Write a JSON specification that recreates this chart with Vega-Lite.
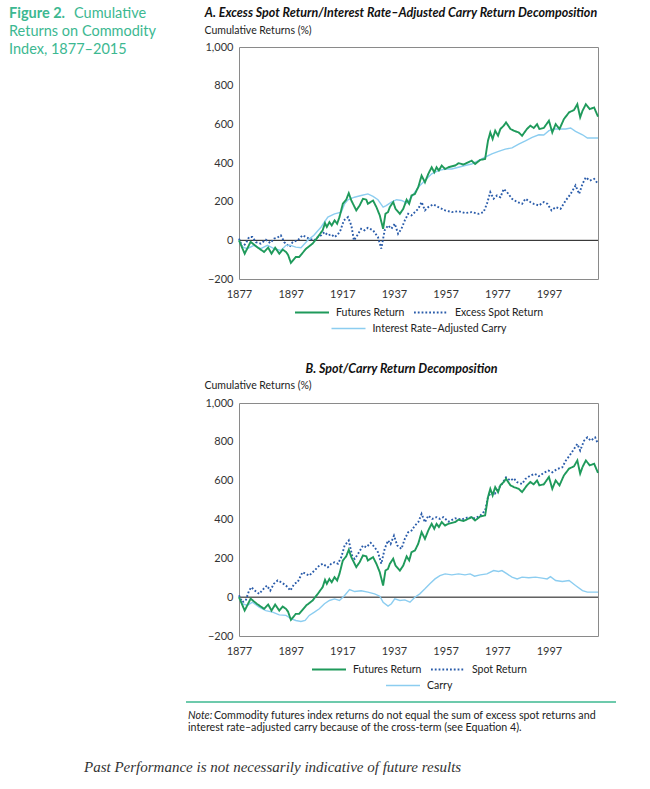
{
  "$schema": "https://vega.github.io/schema/vega-lite/v6.json",
  "padding": {"left": 8, "top": 5, "right": 5, "bottom": 5},
  "background": "white",
  "config": {
    "font": "Lato",
    "view": {"stroke": "#8a8a8a", "strokeWidth": 1},
    "axis": {"labelFont": "Lato", "labelFontSize": 11, "labelColor": "#333333", "grid": false, "ticks": false, "domain": false, "titleFont": "Lato", "titleFontWeight": "normal", "titleFontSize": 10.5, "titleColor": "#222222", "labelFlush": false, "labelOverlap": false},
    "axisY": {"labelOverlap": false, "labelSeparation": 0},
    "legend": {"orient": "bottom", "direction": "horizontal", "labelFont": "Lato", "labelFontSize": 10.5, "labelColor": "#222222", "symbolType": "stroke", "symbolSize": 1156, "symbolStrokeWidth": 1.8, "clipHeight": 13, "columnPadding": 8, "labelOffset": 6, "offset": 7, "padding": 0, "layout": {"bottom": {"anchor": "middle", "direction": "vertical", "center": true, "margin": 3}}},
    "title": {"font": "Lato"}
  },
  "datasets": {
    "futures": [
      {"year":1877,"value":0},{"year":1879.2,"value":-69},{"year":1881.5,"value":-8},{"year":1884,"value":-35},{"year":1886.7,"value":-60},{"year":1888.3,"value":-38},{"year":1889.6,"value":-69},{"year":1891,"value":-38},{"year":1892.6,"value":-69},{"year":1893.9,"value":-48},{"year":1895.2,"value":-60},{"year":1896,"value":-75},{"year":1897.1,"value":-117},{"year":1899,"value":-86},{"year":1900.3,"value":-86},{"year":1903,"value":-43},{"year":1905.5,"value":-17},{"year":1907.5,"value":17},{"year":1909.4,"value":52},{"year":1910.3,"value":89},{"year":1911,"value":69},{"year":1912,"value":94},{"year":1912.9,"value":77},{"year":1914,"value":103},{"year":1915,"value":86},{"year":1915.9,"value":120},{"year":1917.2,"value":189},{"year":1918.5,"value":210},{"year":1919.5,"value":244},{"year":1920.5,"value":206},{"year":1922.4,"value":155},{"year":1923.7,"value":180},{"year":1925,"value":215},{"year":1926.3,"value":210},{"year":1926.9,"value":189},{"year":1928.9,"value":206},{"year":1930.2,"value":172},{"year":1931.5,"value":129},{"year":1932.8,"value":60},{"year":1933.7,"value":137},{"year":1934.7,"value":146},{"year":1935.4,"value":172},{"year":1936.7,"value":198},{"year":1937.6,"value":163},{"year":1939.3,"value":137},{"year":1940.6,"value":163},{"year":1941.9,"value":210},{"year":1942.9,"value":189},{"year":1943.8,"value":232},{"year":1945.1,"value":240},{"year":1946.4,"value":275},{"year":1947.7,"value":335},{"year":1949,"value":300},{"year":1950.3,"value":344},{"year":1951.6,"value":378},{"year":1952.6,"value":352},{"year":1953.5,"value":378},{"year":1954.4,"value":361},{"year":1955.5,"value":387},{"year":1956.8,"value":369},{"year":1958.1,"value":378},{"year":1960.7,"value":387},{"year":1962,"value":399},{"year":1963.9,"value":392},{"year":1965.8,"value":404},{"year":1967.1,"value":412},{"year":1968.4,"value":395},{"year":1970.4,"value":416},{"year":1972.3,"value":421},{"year":1973.4,"value":515},{"year":1974.3,"value":558},{"year":1975.2,"value":524},{"year":1976.2,"value":567},{"year":1977.3,"value":541},{"year":1978.2,"value":576},{"year":1979.5,"value":593},{"year":1980.4,"value":610},{"year":1982.1,"value":576},{"year":1983.4,"value":567},{"year":1985.3,"value":558},{"year":1986.6,"value":541},{"year":1988.5,"value":576},{"year":1989.8,"value":593},{"year":1991.1,"value":581},{"year":1992.4,"value":601},{"year":1993.3,"value":576},{"year":1995,"value":581},{"year":1997,"value":619},{"year":1998.3,"value":558},{"year":1999.6,"value":601},{"year":2001.1,"value":576},{"year":2002.8,"value":627},{"year":2004.8,"value":662},{"year":2006.7,"value":674},{"year":2008,"value":704},{"year":2009.1,"value":636},{"year":2010,"value":670},{"year":2011.3,"value":704},{"year":2012.8,"value":679},{"year":2014.5,"value":687},{"year":2016,"value":640}
    ],
    "excessSpot": [
      {"year":1877,"value":9},{"year":1878.3,"value":-34},{"year":1879.6,"value":-17},{"year":1880.9,"value":17},{"year":1882.2,"value":17},{"year":1883.5,"value":-9},{"year":1885.4,"value":-17},{"year":1887.4,"value":3},{"year":1889.1,"value":-14},{"year":1890.6,"value":9},{"year":1891.9,"value":14},{"year":1893.2,"value":26},{"year":1894.5,"value":-9},{"year":1896.5,"value":-34},{"year":1897.8,"value":-9},{"year":1899.7,"value":0},{"year":1901.6,"value":26},{"year":1902.9,"value":17},{"year":1904.2,"value":9},{"year":1906.2,"value":0},{"year":1907.5,"value":17},{"year":1908.8,"value":26},{"year":1910.1,"value":43},{"year":1911.4,"value":26},{"year":1912.7,"value":31},{"year":1914,"value":17},{"year":1915.3,"value":31},{"year":1916.3,"value":52},{"year":1917.6,"value":103},{"year":1919.2,"value":120},{"year":1920.5,"value":77},{"year":1921.5,"value":0},{"year":1922.8,"value":26},{"year":1924.3,"value":60},{"year":1925.6,"value":52},{"year":1926.9,"value":65},{"year":1928.9,"value":52},{"year":1930.8,"value":17},{"year":1932.1,"value":-43},{"year":1933.4,"value":52},{"year":1934.7,"value":77},{"year":1936,"value":60},{"year":1937.3,"value":86},{"year":1938.6,"value":34},{"year":1939.9,"value":60},{"year":1941.2,"value":103},{"year":1942.5,"value":137},{"year":1943.8,"value":129},{"year":1945.1,"value":146},{"year":1946.4,"value":163},{"year":1947.7,"value":198},{"year":1949,"value":155},{"year":1950.3,"value":172},{"year":1952.2,"value":186},{"year":1954.2,"value":172},{"year":1956.8,"value":155},{"year":1959.4,"value":146},{"year":1962,"value":151},{"year":1964.5,"value":141},{"year":1967.1,"value":146},{"year":1969.7,"value":137},{"year":1971.7,"value":146},{"year":1973,"value":189},{"year":1974.3,"value":249},{"year":1975.6,"value":215},{"year":1976.9,"value":232},{"year":1978.2,"value":223},{"year":1979.5,"value":266},{"year":1980.8,"value":249},{"year":1982.7,"value":215},{"year":1984.7,"value":198},{"year":1986.6,"value":189},{"year":1987.9,"value":215},{"year":1989.8,"value":198},{"year":1991.1,"value":189},{"year":1993.1,"value":180},{"year":1995,"value":198},{"year":1996.4,"value":189},{"year":1998,"value":155},{"year":1999.6,"value":172},{"year":2001.5,"value":163},{"year":2003.5,"value":206},{"year":2005.4,"value":240},{"year":2007.3,"value":284},{"year":2008.7,"value":240},{"year":2010,"value":292},{"year":2011.3,"value":326},{"year":2012.8,"value":309},{"year":2014.5,"value":318},{"year":2016,"value":292}
    ],
    "carryA": [
      {"year":1877,"value":0},{"year":1878.3,"value":-34},{"year":1880.2,"value":-43},{"year":1882.8,"value":-26},{"year":1885.4,"value":-43},{"year":1888,"value":-26},{"year":1890.6,"value":-43},{"year":1893.2,"value":-52},{"year":1895.2,"value":-26},{"year":1897,"value":-26},{"year":1899,"value":-35},{"year":1901,"value":-38},{"year":1903.6,"value":0},{"year":1906,"value":26},{"year":1908.8,"value":69},{"year":1911.4,"value":120},{"year":1914,"value":137},{"year":1916.6,"value":146},{"year":1917.9,"value":189},{"year":1919.2,"value":210},{"year":1921.7,"value":223},{"year":1924.3,"value":232},{"year":1926.9,"value":240},{"year":1928.9,"value":227},{"year":1930.8,"value":210},{"year":1932.8,"value":172},{"year":1934,"value":180},{"year":1936,"value":198},{"year":1938,"value":210},{"year":1940,"value":206},{"year":1941.9,"value":192},{"year":1943.8,"value":223},{"year":1946.4,"value":275},{"year":1949,"value":309},{"year":1951.6,"value":344},{"year":1954.2,"value":361},{"year":1956.8,"value":369},{"year":1959.4,"value":369},{"year":1962,"value":378},{"year":1964.5,"value":387},{"year":1967.1,"value":395},{"year":1969.7,"value":412},{"year":1972.3,"value":430},{"year":1974.9,"value":447},{"year":1977.5,"value":460},{"year":1980.1,"value":472},{"year":1982.7,"value":478},{"year":1985.3,"value":498},{"year":1987.9,"value":515},{"year":1990.5,"value":533},{"year":1993.1,"value":546},{"year":1995,"value":545},{"year":1997,"value":567},{"year":1998.9,"value":576},{"year":2000.9,"value":576},{"year":2003.5,"value":576},{"year":2005.4,"value":581},{"year":2007.3,"value":564},{"year":2010,"value":546},{"year":2011.9,"value":529},{"year":2016,"value":529}
    ],
    "spot": [
      {"year":1877,"value":9},{"year":1878.3,"value":-26},{"year":1879.6,"value":-17},{"year":1880.9,"value":34},{"year":1881.8,"value":51},{"year":1883.1,"value":34},{"year":1884.8,"value":17},{"year":1886.5,"value":43},{"year":1887.8,"value":60},{"year":1889.1,"value":34},{"year":1890.5,"value":69},{"year":1892,"value":86},{"year":1893.3,"value":77},{"year":1895.2,"value":60},{"year":1896.9,"value":34},{"year":1898.4,"value":69},{"year":1899.7,"value":77},{"year":1901.6,"value":129},{"year":1902.9,"value":120},{"year":1904.2,"value":111},{"year":1906.2,"value":137},{"year":1908.1,"value":163},{"year":1909.4,"value":172},{"year":1911.4,"value":154},{"year":1912.7,"value":172},{"year":1914,"value":180},{"year":1915.3,"value":172},{"year":1916.6,"value":206},{"year":1917.9,"value":266},{"year":1919.5,"value":292},{"year":1920.8,"value":214},{"year":1921.8,"value":197},{"year":1923.1,"value":223},{"year":1925,"value":266},{"year":1926.3,"value":257},{"year":1928,"value":280},{"year":1929.5,"value":257},{"year":1930.8,"value":232},{"year":1932.1,"value":172},{"year":1933.4,"value":249},{"year":1934.7,"value":292},{"year":1935.7,"value":274},{"year":1937,"value":317},{"year":1938.3,"value":266},{"year":1939.9,"value":249},{"year":1941.2,"value":300},{"year":1942.5,"value":334},{"year":1943.8,"value":343},{"year":1945.1,"value":369},{"year":1946.4,"value":386},{"year":1947.7,"value":429},{"year":1949,"value":386},{"year":1950.3,"value":420},{"year":1951.8,"value":403},{"year":1953.5,"value":412},{"year":1954.8,"value":403},{"year":1956.1,"value":412},{"year":1958.1,"value":389},{"year":1960.7,"value":406},{"year":1963.2,"value":400},{"year":1965.8,"value":412},{"year":1968.4,"value":406},{"year":1970.4,"value":420},{"year":1972.3,"value":446},{"year":1973.4,"value":515},{"year":1974.7,"value":540},{"year":1976,"value":532},{"year":1977.3,"value":557},{"year":1978.8,"value":583},{"year":1980.4,"value":617},{"year":1982.1,"value":600},{"year":1983.4,"value":612},{"year":1984.7,"value":592},{"year":1986.6,"value":583},{"year":1987.9,"value":609},{"year":1989.8,"value":626},{"year":1991.5,"value":635},{"year":1993.1,"value":623},{"year":1995,"value":640},{"year":1996.8,"value":652},{"year":1998.3,"value":643},{"year":2000.2,"value":660},{"year":2002.2,"value":669},{"year":2003.5,"value":703},{"year":2005,"value":729},{"year":2006.7,"value":763},{"year":2008,"value":789},{"year":2009.1,"value":755},{"year":2010.6,"value":806},{"year":2011.9,"value":823},{"year":2013.2,"value":806},{"year":2014.9,"value":823},{"year":2016,"value":789}
    ],
    "carryB": [
      {"year":1877,"value":0},{"year":1878.3,"value":-34},{"year":1880.2,"value":-43},{"year":1882.2,"value":-26},{"year":1884.8,"value":-51},{"year":1887.4,"value":-69},{"year":1890,"value":-77},{"year":1892.6,"value":-91},{"year":1895.2,"value":-94},{"year":1897.1,"value":-111},{"year":1899,"value":-120},{"year":1901,"value":-125},{"year":1902.6,"value":-120},{"year":1904.2,"value":-94},{"year":1906.2,"value":-77},{"year":1908.1,"value":-60},{"year":1910.1,"value":-34},{"year":1912,"value":-17},{"year":1914,"value":-9},{"year":1915.9,"value":-17},{"year":1917.9,"value":9},{"year":1919.8,"value":39},{"year":1921.8,"value":29},{"year":1924.3,"value":33},{"year":1926.9,"value":26},{"year":1929.5,"value":17},{"year":1931.5,"value":5},{"year":1932.8,"value":-26},{"year":1934.7,"value":-46},{"year":1936,"value":-34},{"year":1937.3,"value":-9},{"year":1939.3,"value":-17},{"year":1941.2,"value":-14},{"year":1943.2,"value":-26},{"year":1945.1,"value":0},{"year":1947,"value":17},{"year":1949,"value":43},{"year":1950.9,"value":69},{"year":1952.9,"value":94},{"year":1954.8,"value":111},{"year":1956.8,"value":120},{"year":1959.4,"value":115},{"year":1962,"value":120},{"year":1964.5,"value":115},{"year":1966.5,"value":120},{"year":1968.2,"value":108},{"year":1970.4,"value":115},{"year":1973,"value":120},{"year":1975.6,"value":137},{"year":1977.5,"value":132},{"year":1978.8,"value":137},{"year":1980.8,"value":120},{"year":1982.7,"value":103},{"year":1984.7,"value":94},{"year":1986.6,"value":103},{"year":1989.2,"value":100},{"year":1991.8,"value":103},{"year":1994.4,"value":98},{"year":1996.3,"value":94},{"year":1997.6,"value":106},{"year":1999.6,"value":86},{"year":2002.2,"value":81},{"year":2004.8,"value":86},{"year":2007.3,"value":60},{"year":2010,"value":34},{"year":2011.9,"value":26},{"year":2016,"value":26}
    ]
  },
  "spacing": 26,
  "resolve": {"scale": {"color": "independent", "strokeDash": "independent", "strokeWidth": "independent"}},
  "vconcat": [
    {
      "width": 359,
      "height": 232,
      "layer": [
        {
          "data": {"values": [{}]},
          "mark": {"type": "rule", "color": "#111111", "strokeWidth": 1},
          "encoding": {"y": {"datum": 0, "type": "quantitative", "scale": {"domain": [-200, 1000], "nice": false}, "axis": {"tickCount": 6, "format": ",d", "title": "Cumulative Returns (%)", "titleAngle": 0, "titleAlign": "left", "titleBaseline": "middle", "titleX": -35, "titleY": -17, "labelPadding": 6, "labelOverlap": false}}}
        },
        {
          "data": {"name": "excessSpot"},
          "mark": {"type": "line", "strokeWidth": 1.9},
          "encoding": {
            "x": {"field": "year", "type": "quantitative", "scale": {"domain": [1877, 2016], "nice": false, "zero": false}, "axis": {"values": [1877, 1897, 1917, 1937, 1957, 1977, 1997], "format": "d", "title": null, "labelPadding": 9, "labelOverlap": false}},
            "y": {"field": "value", "type": "quantitative", "scale": {"domain": [-200, 1000], "nice": false}, "axis": {"tickCount": 6, "format": ",d", "title": "Cumulative Returns (%)", "titleAngle": 0, "titleAlign": "left", "titleBaseline": "middle", "titleX": -35, "titleY": -17, "labelPadding": 6, "labelOverlap": false}},
            "color": {"datum": "Excess Spot Return", "type": "nominal", "scale": {"domain": ["Futures Return", "Excess Spot Return"], "range": ["#1f9a5b", "#2a5caa"]}, "legend": {"title": null, "symbolType": "stroke", "clipHeight": 13}},
            "strokeDash": {"datum": "Excess Spot Return", "type": "nominal", "scale": {"domain": ["Futures Return", "Excess Spot Return"], "range": [[1, 0], [1.8, 2]]}, "legend": {"title": null, "symbolType": "stroke", "clipHeight": 13}}
          }
        },
        {
          "data": {"name": "carryA"},
          "mark": {"type": "line", "color": "#8ccdf0", "stroke": "#8ccdf0"},
          "encoding": {
            "x": {"field": "year", "type": "quantitative", "scale": {"domain": [1877, 2016], "nice": false, "zero": false}},
            "y": {"field": "value", "type": "quantitative", "scale": {"domain": [-200, 1000], "nice": false}},
            "strokeWidth": {"datum": "Interest Rate–Adjusted Carry", "type": "nominal", "scale": {"domain": ["Interest Rate–Adjusted Carry"], "range": [1.4, 1.4]}, "legend": {"title": null, "symbolStrokeColor": "#8ccdf0", "symbolType": "stroke", "clipHeight": 13}}
          }
        },
        {
          "data": {"name": "futures"},
          "mark": {"type": "line", "strokeWidth": 1.9},
          "encoding": {
            "x": {"field": "year", "type": "quantitative", "scale": {"domain": [1877, 2016], "nice": false, "zero": false}},
            "y": {"field": "value", "type": "quantitative", "scale": {"domain": [-200, 1000], "nice": false}},
            "color": {"datum": "Futures Return", "type": "nominal", "scale": {"domain": ["Futures Return", "Excess Spot Return"], "range": ["#1f9a5b", "#2a5caa"]}, "legend": {"title": null, "symbolType": "stroke", "clipHeight": 13}},
            "strokeDash": {"datum": "Futures Return", "type": "nominal", "scale": {"domain": ["Futures Return", "Excess Spot Return"], "range": [[1, 0], [1.8, 2]]}, "legend": {"title": null, "symbolType": "stroke", "clipHeight": 13}}
          }
        },
        {
          "data": {"values": [{}]},
          "mark": {"type": "text", "text": "Figure 2.", "font": "Lato", "fontSize": 14.5, "fontWeight": "bold", "color": "#3cb891", "align": "left", "baseline": "middle"},
          "encoding": {"x": {"value": -230}, "y": {"value": -33}}
        },
        {
          "data": {"values": [{}]},
          "mark": {"type": "text", "text": "Cumulative", "font": "Lato", "fontSize": 14.5, "color": "#3cb891", "align": "left", "baseline": "middle"},
          "encoding": {"x": {"value": -165}, "y": {"value": -33}}
        },
        {
          "data": {"values": [{}]},
          "mark": {"type": "text", "text": "Returns on Commodity", "font": "Lato", "fontSize": 14.5, "color": "#3cb891", "align": "left", "baseline": "middle"},
          "encoding": {"x": {"value": -230}, "y": {"value": -15}}
        },
        {
          "data": {"values": [{}]},
          "mark": {"type": "text", "text": "Index, 1877–2015", "font": "Lato", "fontSize": 14.5, "color": "#3cb891", "align": "left", "baseline": "middle"},
          "encoding": {"x": {"value": -230}, "y": {"value": 3}}
        },
        {
          "data": {"values": [{}]},
          "mark": {"type": "text", "text": "A. Excess Spot Return/Interest Rate–Adjusted Carry Return Decomposition", "font": "Lato", "fontSize": 12.5, "fontWeight": "bold", "fontStyle": "italic", "color": "#111111", "align": "center", "baseline": "middle"},
          "encoding": {"x": {"value": 162}, "y": {"value": -34}}
        }
      ]
    },
    {
      "width": 359,
      "height": 233,
      "title": {"text": "B. Spot/Carry Return Decomposition", "font": "Lato", "fontSize": 12.5, "fontWeight": "bold", "fontStyle": "italic", "color": "#111111", "anchor": "middle", "frame": "group", "dx": -17, "offset": 5},
      "layer": [
        {
          "data": {"values": [{}]},
          "mark": {"type": "rule", "color": "#111111", "strokeWidth": 1},
          "encoding": {"y": {"datum": 0, "type": "quantitative", "scale": {"domain": [-200, 1000], "nice": false}, "axis": {"tickCount": 6, "format": ",d", "title": "Cumulative Returns (%)", "titleAngle": 0, "titleAlign": "left", "titleBaseline": "middle", "titleX": -35, "titleY": -18, "labelPadding": 6, "labelOverlap": false}}}
        },
        {
          "data": {"name": "spot"},
          "mark": {"type": "line", "strokeWidth": 1.9},
          "encoding": {
            "x": {"field": "year", "type": "quantitative", "scale": {"domain": [1877, 2016], "nice": false, "zero": false}, "axis": {"values": [1877, 1897, 1917, 1937, 1957, 1977, 1997], "format": "d", "title": null, "labelPadding": 9, "labelOverlap": false}},
            "y": {"field": "value", "type": "quantitative", "scale": {"domain": [-200, 1000], "nice": false}, "axis": {"tickCount": 6, "format": ",d", "title": "Cumulative Returns (%)", "titleAngle": 0, "titleAlign": "left", "titleBaseline": "middle", "titleX": -35, "titleY": -18, "labelPadding": 6, "labelOverlap": false}},
            "color": {"datum": "Spot Return", "type": "nominal", "scale": {"domain": ["Futures Return", "Spot Return"], "range": ["#1f9a5b", "#2a5caa"]}, "legend": {"title": null, "symbolType": "stroke", "clipHeight": 13}},
            "strokeDash": {"datum": "Spot Return", "type": "nominal", "scale": {"domain": ["Futures Return", "Spot Return"], "range": [[1, 0], [1.8, 2]]}, "legend": {"title": null, "symbolType": "stroke", "clipHeight": 13}}
          }
        },
        {
          "data": {"name": "carryB"},
          "mark": {"type": "line", "color": "#8ccdf0", "stroke": "#8ccdf0"},
          "encoding": {
            "x": {"field": "year", "type": "quantitative", "scale": {"domain": [1877, 2016], "nice": false, "zero": false}},
            "y": {"field": "value", "type": "quantitative", "scale": {"domain": [-200, 1000], "nice": false}},
            "strokeWidth": {"datum": "Carry", "type": "nominal", "scale": {"domain": ["Carry"], "range": [1.4, 1.4]}, "legend": {"title": null, "symbolStrokeColor": "#8ccdf0", "symbolType": "stroke", "clipHeight": 13}}
          }
        },
        {
          "data": {"name": "futures"},
          "mark": {"type": "line", "strokeWidth": 1.9},
          "encoding": {
            "x": {"field": "year", "type": "quantitative", "scale": {"domain": [1877, 2016], "nice": false, "zero": false}},
            "y": {"field": "value", "type": "quantitative", "scale": {"domain": [-200, 1000], "nice": false}},
            "color": {"datum": "Futures Return", "type": "nominal", "scale": {"domain": ["Futures Return", "Spot Return"], "range": ["#1f9a5b", "#2a5caa"]}, "legend": {"title": null, "symbolType": "stroke", "clipHeight": 13}},
            "strokeDash": {"datum": "Futures Return", "type": "nominal", "scale": {"domain": ["Futures Return", "Spot Return"], "range": [[1, 0], [1.8, 2]]}, "legend": {"title": null, "symbolType": "stroke", "clipHeight": 13}}
          }
        },
        {
          "data": {"values": [{}]},
          "mark": {"type": "rule", "color": "#3cb891", "strokeWidth": 1.5},
          "encoding": {"x": {"value": -53}, "x2": {"value": 377}, "y": {"value": 299}}
        },
        {
          "data": {"values": [{}]},
          "mark": {"type": "text", "text": "Note:", "font": "Lato", "fontSize": 10.7, "fontStyle": "italic", "color": "#222222", "align": "left", "baseline": "middle"},
          "encoding": {"x": {"value": -51}, "y": {"value": 313}}
        },
        {
          "data": {"values": [{}]},
          "mark": {"type": "text", "text": "Commodity futures index returns do not equal the sum of excess spot returns and", "font": "Lato", "fontSize": 10.7, "color": "#222222", "align": "left", "baseline": "middle"},
          "encoding": {"x": {"value": -25}, "y": {"value": 313}}
        },
        {
          "data": {"values": [{}]},
          "mark": {"type": "text", "text": "interest rate–adjusted carry because of the cross-term (see Equation 4).", "font": "Lato", "fontSize": 10.7, "color": "#222222", "align": "left", "baseline": "middle"},
          "encoding": {"x": {"value": -51}, "y": {"value": 325}}
        },
        {
          "data": {"values": [{}]},
          "mark": {"type": "text", "text": "Past Performance is not necessarily indicative of future results", "font": "Liberation Serif", "fontSize": 15, "fontStyle": "italic", "color": "#333333", "align": "left", "baseline": "middle"},
          "encoding": {"x": {"value": -155}, "y": {"value": 364}}
        }
      ]
    }
  ]
}
